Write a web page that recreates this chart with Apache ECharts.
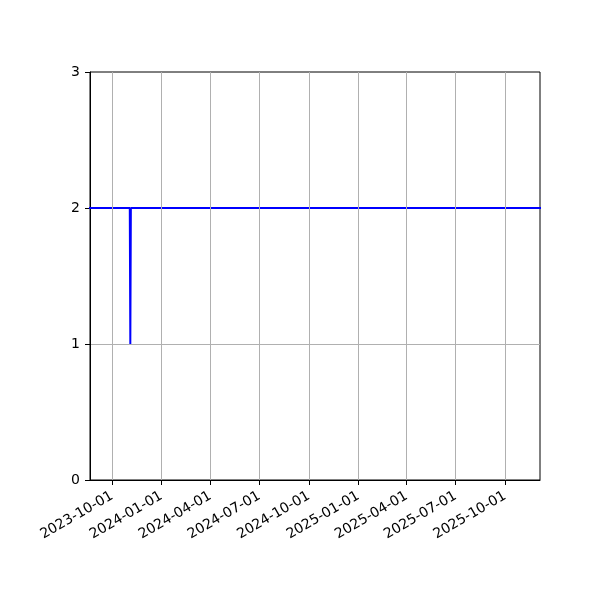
<!DOCTYPE html>
<html>
<head>
<meta charset="utf-8">
<script src="https://cdn.jsdelivr.net/npm/echarts@6/dist/echarts.min.js"></script>
<style>html,body{margin:0;padding:0;background:#fff;}#c{width:600px;height:600px;}</style>
</head>
<body>
<div id="c"></div>
<script>
// Data
const dates = ['2023-08-01', '2023-11-03', '2023-11-04', '2023-11-05', '2025-12-31'];
const values = [2, 2, 1, 2, 2];
const xTicks = ['2023-10-01', '2024-01-01', '2024-04-01', '2024-07-01', '2024-10-01', '2025-01-01', '2025-04-01', '2025-07-01', '2025-10-01'];
const yTicks = [0, 1, 2, 3];
const xRange = ['2023-08-21', '2025-12-05'];

const ts = d => Date.parse(d + 'T00:00:00Z');
const fmt = v => {
  const d = new Date(v);
  const p = n => String(n).padStart(2, '0');
  return d.getUTCFullYear() + '-' + p(d.getUTCMonth() + 1) + '-' + p(d.getUTCDate());
};
const chart = echarts.init(document.getElementById('c'));
const tickVals = xTicks.map(ts);
const font = 'DejaVu Sans';
chart.setOption({
  animation: false,
  grid: { left: 90, right: 60, top: 72, bottom: 120, show: true, borderColor: '#000', borderWidth: 1, backgroundColor: 'transparent' },
  xAxis: {
    type: 'value',
    min: ts(xRange[0]), max: ts(xRange[1]),
    axisLine: { show: true, onZero: false, lineStyle: { color: '#000', width: 1 } },
    axisTick: { show: true, inside: false, length: 5, customValues: tickVals, lineStyle: { color: '#000' } },
    axisLabel: {
      customValues: tickVals, rotate: 30, margin: 15, color: '#000', fontFamily: font, fontSize: 14,
      formatter: v => fmt(v)
    },
    splitLine: { show: false }
  },
  yAxis: {
    type: 'value', min: yTicks[0], max: yTicks[yTicks.length - 1], interval: 1,
    axisLine: { show: true, lineStyle: { color: '#000', width: 1 } },
    axisTick: { show: true, length: 5, lineStyle: { color: '#000' } },
    axisLabel: { color: '#000', fontFamily: font, fontSize: 14, margin: 10 },
    splitLine: { show: true, showMinLine: false, showMaxLine: false, lineStyle: { color: '#b0b0b0', width: 1 } }
  },
  series: [
    {
      type: 'line', data: [], z: 1, silent: true,
      markLine: {
        silent: true, symbol: 'none', animation: false,
        label: { show: false },
        lineStyle: { color: '#b0b0b0', width: 1, type: 'solid' },
        emphasis: { disabled: true },
        data: tickVals.map(v => ({ xAxis: v }))
      }
    },
    {
      type: 'line', z: 3, showSymbol: false, symbol: 'none', clip: true,
      lineStyle: { color: '#0000ff', width: 2 },
      itemStyle: { color: '#0000ff' },
      data: dates.map((d, i) => [ts(d), values[i]])
    }
  ]
});
</script>
</body>
</html>
